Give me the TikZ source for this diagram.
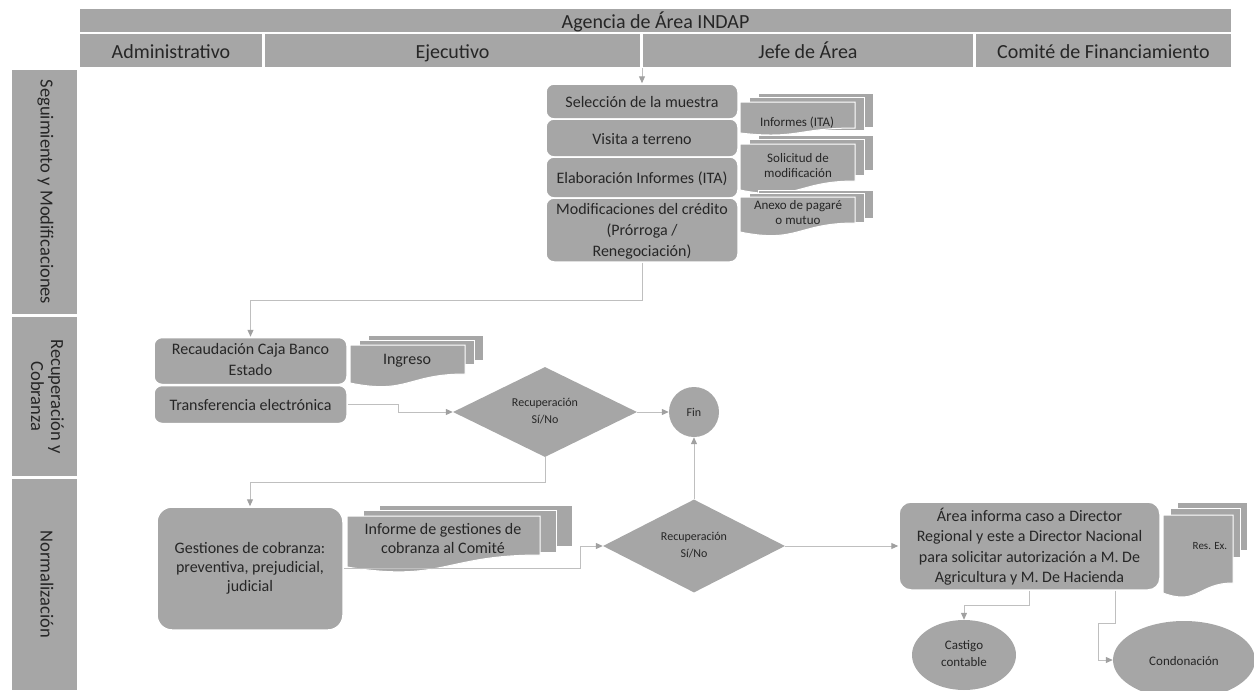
\documentclass[tikz,border=0pt]{standalone}
\usepackage{fontspec}
\setmainfont{Carlito}
\usetikzlibrary{shapes.geometric,arrows.meta,calc}
\definecolor{boxgray}{HTML}{A6A6A6}
\definecolor{linegray}{HTML}{BFBFBF}
\definecolor{tipgray}{HTML}{A0A0A0}
\definecolor{txt}{HTML}{262626}
\newcommand\mystrut{\vrule width 0pt height 1.0em depth 0.2em\relax}
% multi-document: x1 y1 x2 yR yL dx dy yback ymid
\newcommand\mdoc[9]{%
  \path[docpage] ({#1+2*#6},{#2-2*#7}) rectangle ({#3+2*#6},#8);
  \path[docpage] ({#1+#6},{#2-#7}) rectangle ({#3+#6},#9);
  \path[docpage] (#1,#2) -- (#3,#2) -- (#3,#4)
     .. controls ({(#1+#3)/2},#4) and ({(#1+#3)/2},{#4+2.31*(#5-#4)}) .. (#1,#5) -- cycle;
}
\begin{document}
\begin{tikzpicture}[x=1pt,y=-1pt,
  tx/.style={text=txt,inner sep=0pt,align=center,execute at begin node={\mystrut},execute at end node={\mystrut}},
  hdr/.style={tx,rectangle,fill=boxgray,draw=white,line width=1.5pt,font=\fontsize{20}{22}\selectfont},
  lane/.style={text=txt,inner sep=0pt,align=center,execute at begin node={\strut},execute at end node={\strut},rectangle,fill=boxgray,draw=white,line width=1.5pt,font=\fontsize{18.5}{20}\selectfont,rotate=-90},
  proc/.style={tx,rectangle,rounded corners=8pt,fill=boxgray,draw=white,line width=1.5pt,font=\fontsize{16}{21}\selectfont},
  dec/.style={tx,diamond,aspect=2,fill=boxgray,font=\fontsize{12}{16.5}\selectfont},
  term/.style={tx,ellipse,fill=boxgray,font=\fontsize{13}{17}\selectfont},
  doctext/.style={tx},
  docpage/.style={fill=boxgray,draw=white,line width=1pt},
  conn/.style={draw=linegray,line width=1pt},
  arr/.style={conn,-{Triangle[length=7pt,width=6pt,color=tipgray]}}
]
\useasboundingbox (0,0) rectangle (1254,691);
\clip (0,0) rectangle (1254,691);

% header
\node[hdr,minimum width=1153pt,minimum height=23pt] (agencia) at (655.5,20.5) {Agencia de Área INDAP};
\node[hdr,minimum width=184pt,minimum height=35pt] (hadm) at (171,50.5) {Administrativo};
\node[hdr,minimum width=377pt,minimum height=35pt] (heje) at (452.5,50.5) {Ejecutivo};
\node[hdr,minimum width=332pt,minimum height=35pt] (hjef) at (808,50.5) {Jefe de Área};
\node[hdr,minimum width=257pt,minimum height=35pt] (hcom) at (1103.5,50.5) {Comité de Financiamiento};

% lanes
\node[lane,minimum width=246pt,minimum height=67pt] (lane1) at (44.5,192) {Seguimiento y Modificaciones};
\node[lane,minimum width=161pt,minimum height=67pt] (lane2) at (44.5,396.5) {Recuperación y\\Cobranza};
\node[lane,minimum width=213pt,minimum height=67pt] (lane3) at (44.5,584.5) {Normalización};

% seguimiento
\node[proc,minimum width=192pt,minimum height=35pt] (sel) at (642,101.5) {Selección de la muestra};
\node[proc,minimum width=192pt,minimum height=38pt] (vis) at (642,138) {Visita a terreno};
\node[proc,minimum width=192pt,minimum height=41pt] (ela) at (642,177.5) {Elaboración Informes (ITA)};
\node[proc,minimum width=192pt,minimum height=64pt] (mod) at (642,230) {};
\node[tx,font=\fontsize{16}{21}\selectfont] (modt) at (642,232) {Modificaciones del crédito\\(Prórroga /\\Renegociación)};

\mdoc{740}{102}{855}{128}{133}{9}{4.5}{127}{130}
\node[doctext,font=\fontsize{13}{16}\selectfont] (dinf) at (797,121) {Informes (ITA)};
\mdoc{740}{144}{855}{181}{190}{9}{4.5}{170}{175}
\node[doctext,font=\fontsize{13}{15.5}\selectfont] (dsol) at (798,167) {Solicitud de\\modificación};
\mdoc{740}{197}{855}{223}{232}{9}{3.5}{218}{222}
\node[doctext,font=\fontsize{13}{15.5}\selectfont] (dane) at (798,214) {Anexo de pagaré\\o mutuo};

% recuperación
\node[proc,minimum width=193pt,minimum height=47pt] (rec) at (250.5,361) {Recaudación Caja Banco\\Estado};
\node[proc,minimum width=193pt,minimum height=38pt] (tra) at (250.5,404.5) {Transferencia electrónica};
\mdoc{350}{345}{465}{374}{383}{9}{5}{360}{364}
\node[doctext,font=\fontsize{16}{19}\selectfont] (ding) at (407,358) {Ingreso};

\node[dec,minimum width=184pt,minimum height=90pt] (d1) at (545,412) {Recuperación\\Sí/No};
\node[term,circle,minimum size=50pt,font=\fontsize{12}{15}\selectfont] (fin) at (694,412) {Fin};

% normalización
\node[proc,rounded corners=15pt,minimum width=186pt,minimum height=123pt,font=\fontsize{16}{19}\selectfont] (ges) at (250,568.5) {Gestiones de cobranza:\\preventiva, prejudicial,\\judicial};
\mdoc{347}{516}{540}{555}{567}{16}{5.5}{546}{552}
\node[doctext,font=\fontsize{16}{18.5}\selectfont] (dges) at (443,540) {Informe de gestiones de\\cobranza al Comité};

\node[dec,minimum width=182pt,minimum height=93pt] (d2) at (694,546) {Recuperación\\Sí/No};

\node[proc,rounded corners=12pt,minimum width=261pt,minimum height=88pt] (area) at (1029.5,546) {};
\node[tx,font=\fontsize{16}{20.5}\selectfont] (areat) at (1029.5,547) {Área informa caso a Director\\Regional y este a Director Nacional\\para solicitar autorización a M. De\\Agricultura y M. De Hacienda};
\mdoc{1163}{515}{1233}{583}{593}{7}{6.5}{550}{557}
\node[doctext,font=\fontsize{11}{14}\selectfont] (dres) at (1210,545) {Res. Ex.};

\node[term,minimum width=104pt,minimum height=70pt] (cas) at (964,655) {Castigo\\contable};
\node[term,minimum width=142pt,minimum height=78pt] (con) at (1184,660) {Condonación};

% connectors
\coordinate (hin) at (642,68);
\draw[arr] (hin) -- (sel.north);
\draw[arr] (mod.south) -- ++(0,38) -| (rec.north);
\draw[arr] (tra.east) -- ++(51,0) |- (d1.west);
\draw[arr] (d1.east) -- (fin.west);
\draw[arr] (d1.south) -- ++(0,25) -| (ges.north);
\draw[arr] (ges.east) -- ++(237,0) |- (d2.west);
\draw[arr] (d2.north) -- (fin.south);
\draw[arr] (d2.east) -- (area.west);
\draw[arr] (area.south) -- ++(0,15) -| (cas.north);
\draw[arr] ([xshift=-45pt]area.south east) -- ++(0,33) -- ++(-17,0) |- (con.west);
\end{tikzpicture}
\end{document}
